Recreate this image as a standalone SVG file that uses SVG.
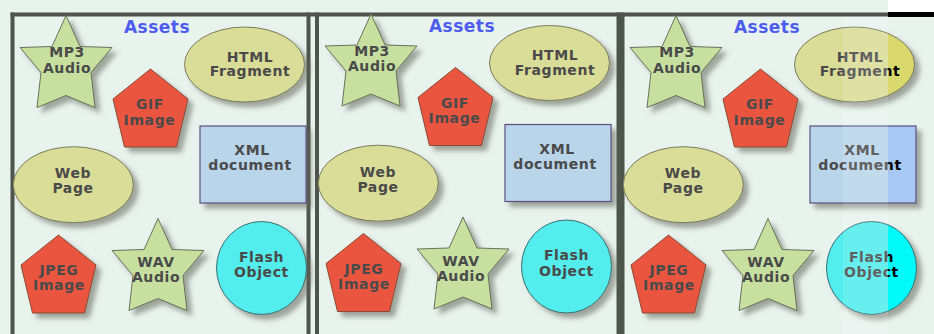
<svg xmlns="http://www.w3.org/2000/svg" width="934" height="334" viewBox="0 0 934 334">
<style>
.lbl{font-family:"DejaVu Sans","Verdana",sans-serif;font-weight:bold;font-size:14px;fill:#4a4a4a;text-anchor:middle;letter-spacing:0.6px}
.title{font-family:"DejaVu Sans","Verdana",sans-serif;font-weight:bold;font-size:17px;fill:#4b5cef;text-anchor:middle;letter-spacing:0.5px}
.star{fill:#c7e0a0;stroke:#68705a;stroke-width:1}
.ell{fill:#dadd97;stroke:#7a7b5c;stroke-width:1}
.pent{fill:#ea5541;stroke:#8a4a33;stroke-width:1}
.box{fill:#b9d5ea;stroke:#5c4f80;stroke-width:1.2}
.circ{fill:#52eded;stroke:#3c6e70;stroke-width:1}
.sh{filter:url(#ds)}
.frame{stroke:#4f554d;fill:none}
</style>
<defs>
<filter id="ds" x="-20%" y="-20%" width="150%" height="150%">
<feDropShadow dx="5" dy="5" stdDeviation="2.5" flood-color="#5f6455" flood-opacity="0.55"/>
</filter>
<polygon id="starShape" points="0,0 14,31 46,32 25,57 29,92 0,80 -29,92 -25,57 -46,32 -14,31"/>
<polygon id="pentShape" points="0,-39 37.5,-9 26,39 -26,39 -37.5,-9"/>
<linearGradient id="g3txt" gradientUnits="userSpaceOnUse" x1="277.5" y1="0" x2="278.5" y2="0"><stop offset="0" stop-color="#4a4a4a"/><stop offset="1" stop-color="#000"/></linearGradient>
<linearGradient id="g3ell" gradientUnits="userSpaceOnUse" x1="277.5" y1="0" x2="278.5" y2="0"><stop offset="0" stop-color="#dadd97"/><stop offset="1" stop-color="#d8d86c"/></linearGradient>
<linearGradient id="g3box" gradientUnits="userSpaceOnUse" x1="277.5" y1="0" x2="278.5" y2="0"><stop offset="0" stop-color="#b9d5ea"/><stop offset="1" stop-color="#a6c8f2"/></linearGradient>
<linearGradient id="g3circ" gradientUnits="userSpaceOnUse" x1="277.5" y1="0" x2="278.5" y2="0"><stop offset="0" stop-color="#52eded"/><stop offset="1" stop-color="#00fafa"/></linearGradient>
</defs>

<rect x="0" y="0" width="934" height="334" fill="#e9f3ee"/>
<rect x="888" y="0" width="46" height="12.5" fill="#ffffff"/>

<g id="frames">
<line class="frame" x1="10.5" y1="14.5" x2="888" y2="14.5" stroke-width="4"/>
<line x1="888" y1="14.5" x2="934" y2="14.5" stroke="#000" stroke-width="5"/>
<line class="frame" x1="12.5" y1="12.5" x2="12.5" y2="334" stroke-width="4"/>
<line class="frame" x1="308.5" y1="12.5" x2="308.5" y2="334" stroke-width="4"/>
<line class="frame" x1="317" y1="12.5" x2="317" y2="334" stroke-width="4"/>
<line class="frame" x1="620.5" y1="12.5" x2="620.5" y2="334" stroke-width="8"/>
</g>

<g id="panel1">
<text class="title" x="157" y="33">Assets</text>
<g id="p1-mp3"><use href="#starShape" class="star sh" transform="translate(66,15.5)"/><text class="lbl" x="67" y="57">MP3</text><text class="lbl" x="67" y="72.5">Audio</text></g>
<g id="p1-html"><ellipse class="ell sh" cx="244.5" cy="64.5" rx="60" ry="37.5"/><text class="lbl" x="250" y="61.5">HTML</text><text class="lbl" x="250" y="76">Fragment</text></g>
<g id="p1-gif"><use href="#pentShape" class="pent sh" transform="translate(150.5,108)"/><text class="lbl" x="150" y="109.3">GIF</text><text class="lbl" x="149.5" y="124.5">Image</text></g>
<g id="p1-xml"><rect class="box sh" x="200" y="126" width="106" height="77"/><text class="lbl" x="252" y="155">XML</text><text class="lbl" x="250" y="170">document</text></g>
<g id="p1-web"><ellipse class="ell sh" cx="73.3" cy="184.7" rx="60" ry="38"/><text class="lbl" x="73" y="178.3">Web</text><text class="lbl" x="73" y="193.3">Page</text></g>
<g id="p1-jpeg"><use href="#pentShape" class="pent sh" transform="translate(58.5,274)"/><text class="lbl" x="59" y="275">JPEG</text><text class="lbl" x="59" y="290">Image</text></g>
<g id="p1-wav"><use href="#starShape" class="star sh" transform="translate(158,218.5)"/><text class="lbl" x="156" y="267.3">WAV</text><text class="lbl" x="156" y="282.3">Audio</text></g>
<g id="p1-flash"><ellipse class="circ sh" cx="261.5" cy="268" rx="45" ry="46.5"/><text class="lbl" x="261.5" y="261.7">Flash</text><text class="lbl" x="261.5" y="277.3">Object</text></g>
</g>

<g id="panel2" transform="translate(305,-1.5)">
<text class="title" x="157" y="33">Assets</text>
<g id="p2-mp3"><use href="#starShape" class="star sh" transform="translate(66,15.5)"/><text class="lbl" x="67" y="57">MP3</text><text class="lbl" x="67" y="72.5">Audio</text></g>
<g id="p2-html"><ellipse class="ell sh" cx="244.5" cy="64.5" rx="60" ry="37.5"/><text class="lbl" x="250" y="61.5">HTML</text><text class="lbl" x="250" y="76">Fragment</text></g>
<g id="p2-gif"><use href="#pentShape" class="pent sh" transform="translate(150.5,108)"/><text class="lbl" x="150" y="109.3">GIF</text><text class="lbl" x="149.5" y="124.5">Image</text></g>
<g id="p2-xml"><rect class="box sh" x="200" y="126" width="106" height="77"/><text class="lbl" x="252" y="155">XML</text><text class="lbl" x="250" y="170">document</text></g>
<g id="p2-web"><ellipse class="ell sh" cx="73.3" cy="184.7" rx="60" ry="38"/><text class="lbl" x="73" y="178.3">Web</text><text class="lbl" x="73" y="193.3">Page</text></g>
<g id="p2-jpeg"><use href="#pentShape" class="pent sh" transform="translate(58.5,274)"/><text class="lbl" x="59" y="275">JPEG</text><text class="lbl" x="59" y="290">Image</text></g>
<g id="p2-wav"><use href="#starShape" class="star sh" transform="translate(158,218.5)"/><text class="lbl" x="156" y="267.3">WAV</text><text class="lbl" x="156" y="282.3">Audio</text></g>
<g id="p2-flash"><ellipse class="circ sh" cx="261.5" cy="268" rx="45" ry="46.5"/><text class="lbl" x="261.5" y="261.7">Flash</text><text class="lbl" x="261.5" y="277.3">Object</text></g>
</g>

<g id="panel3" transform="translate(610,0)">
<text class="title" x="157" y="33">Assets</text>
<g id="p3-mp3"><use href="#starShape" class="star sh" transform="translate(66,15.5)"/><text class="lbl" x="67" y="57">MP3</text><text class="lbl" x="67" y="72.5">Audio</text></g>
<g id="p3-html"><ellipse class="ell sh" style="fill:url(#g3ell)" cx="244.5" cy="64.5" rx="60" ry="37.5"/><text class="lbl" x="250" y="61.5">HTML</text><text class="lbl" style="fill:url(#g3txt)" x="250" y="76">Fragment</text></g>
<g id="p3-gif"><use href="#pentShape" class="pent sh" transform="translate(150.5,108)"/><text class="lbl" x="150" y="109.3">GIF</text><text class="lbl" x="149.5" y="124.5">Image</text></g>
<g id="p3-xml"><rect class="box sh" style="fill:url(#g3box)" x="200" y="126" width="106" height="77"/><text class="lbl" x="252" y="155">XML</text><text class="lbl" style="fill:url(#g3txt)" x="250" y="170">document</text></g>
<g id="p3-web"><ellipse class="ell sh" cx="73.3" cy="184.7" rx="60" ry="38"/><text class="lbl" x="73" y="178.3">Web</text><text class="lbl" x="73" y="193.3">Page</text></g>
<g id="p3-jpeg"><use href="#pentShape" class="pent sh" transform="translate(58.5,274)"/><text class="lbl" x="59" y="275">JPEG</text><text class="lbl" x="59" y="290">Image</text></g>
<g id="p3-wav"><use href="#starShape" class="star sh" transform="translate(158,218.5)"/><text class="lbl" x="156" y="267.3">WAV</text><text class="lbl" x="156" y="282.3">Audio</text></g>
<g id="p3-flash"><ellipse class="circ sh" style="fill:url(#g3circ)" cx="261.5" cy="268" rx="45" ry="46.5"/><text class="lbl" style="fill:url(#g3txt)" x="261.5" y="261.7">Flash</text><text class="lbl" style="fill:url(#g3txt)" x="261.5" y="277.3">Object</text></g>
</g>
<rect x="843" y="16.5" width="45" height="317.5" fill="#ffffff" opacity="0.12"/>
</svg>
